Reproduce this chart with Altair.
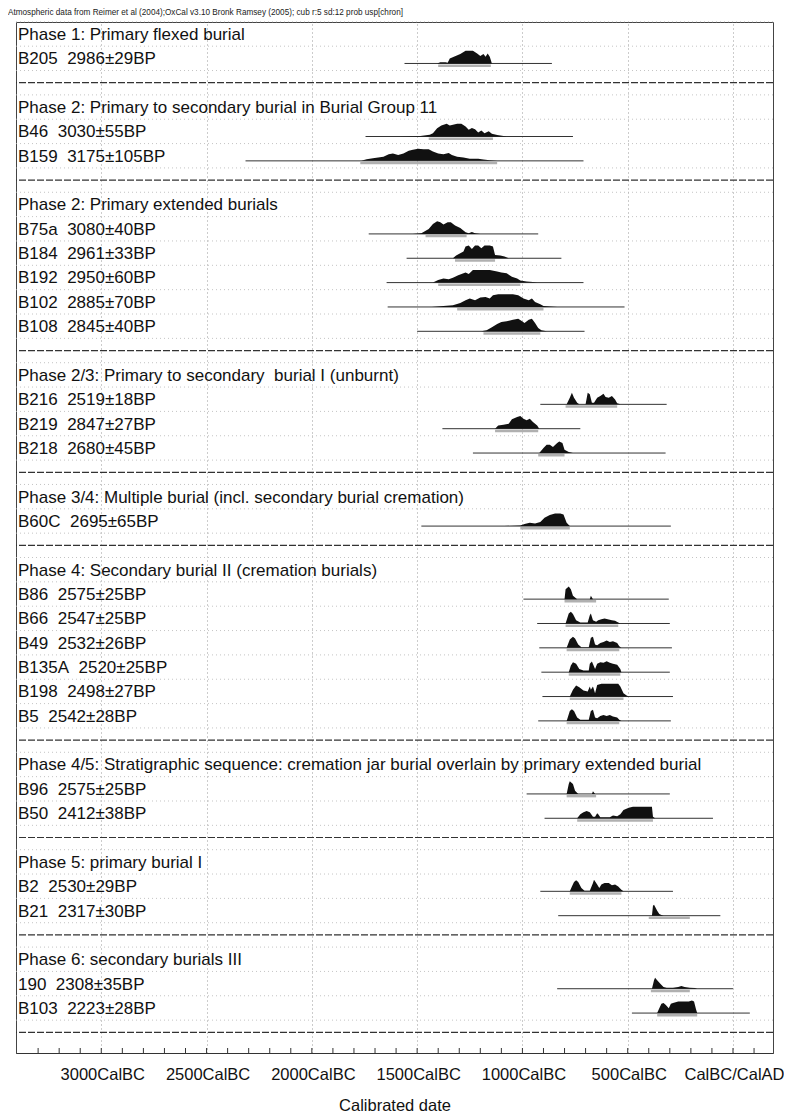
import altair as alt
import pandas as pd

FONT = "Liberation Sans"
TITLE = "Atmospheric data from Reimer et al (2004);OxCal v3.10 Bronk Ramsey (2005); cub r:5 sd:12 prob usp[chron]"

HEADERS = [
    "Phase 1: Primary flexed burial",
    "Phase 2: Primary to secondary burial in Burial Group 11",
    "Phase 2: Primary extended burials",
    "Phase 2/3: Primary to secondary\u00a0 burial I (unburnt)",
    "Phase 3/4: Multiple burial (incl. secondary burial cremation)",
    "Phase 4: Secondary burial II (cremation burials)",
    "Phase 4/5: Stratigraphic sequence: cremation jar burial overlain by primary extended burial",
    "Phase 5: primary burial I",
    "Phase 6: secondary burials III",
]
HEADER_SLOTS = [0, 3, 7, 14, 19, 22, 30, 34, 38]
SEPARATOR_SLOTS = [2, 6, 13, 18, 21, 29, 33, 37, 41]

SAMPLES = ["B205", "B46", "B159", "B75a", "B184", "B192", "B102", "B108",
           "B216", "B219", "B218", "B60C", "B86", "B66", "B49", "B135A",
           "B198", "B5", "B96", "B50", "B2", "B21", "190", "B103"]
DATES = ["2986±29BP", "3030±55BP", "3175±105BP", "3080±40BP", "2961±33BP",
         "2950±60BP", "2885±70BP", "2845±40BP", "2519±18BP", "2847±27BP",
         "2680±45BP", "2695±65BP", "2575±25BP", "2547±25BP", "2532±26BP",
         "2520±25BP", "2498±27BP", "2542±28BP", "2575±25BP", "2412±38BP",
         "2530±29BP", "2317±30BP", "2308±35BP", "2223±28BP"]
SAMPLE_SLOTS = [1, 4, 5, 8, 9, 10, 11, 12, 15, 16, 17, 20, 23, 24, 25, 26,
                27, 28, 31, 32, 35, 36, 39, 40]
LINE_START = [-1560, -1745, -2315, -1730, -1550, -1645, -1640, -1500,
              -915, -1380, -1235, -1480, -995, -930, -920, -910,
              -905, -925, -980, -895, -915, -830, -835, -480]
LINE_END = [-860, -760, -710, -925, -815, -710, -515, -705,
            -315, -725, -320, -295, -305, -300, -290, -300,
            -285, -295, -300, -95, -285, -60, 0, 80]
RANGE_LO = [-1400, -1445, -1770, -1460, -1320, -1400, -1310, -1185,
            -795, -1130, -925, -1010, -800, -795, -790, -780,
            -775, -790, -790, -740, -775, -400, -390, -360]
RANGE_HI = [-1150, -1140, -1120, -1265, -1130, -1010, -900, -915,
            -550, -925, -800, -775, -650, -545, -540, -535,
            -520, -540, -650, -380, -530, -205, -205, -170]

# probability distributions (relative to peak, %)
B205_YEAR = [-1405, -1390, -1365, -1355, -1345, -1295, -1270, -1235, -1215, -1200, -1185, -1175, -1165, -1155, -1145]
B205_PROB = [0, 10, 10, 5, 40, 74, 100, 100, 79, 58, 74, 53, 79, 53, 0]
B46_YEAR = [-1580, -1485, -1440, -1425, -1405, -1385, -1360, -1345, -1310, -1290, -1270, -1255, -1240, -1225, -1210, -1195, -1180, -1160, -1145, -1120, -1075]
B46_PROB = [0, 5, 13, 26, 66, 87, 100, 87, 100, 100, 79, 53, 68, 58, 32, 47, 26, 42, 21, 11, 0]
B159_YEAR = [-1765, -1740, -1710, -1660, -1635, -1615, -1590, -1565, -1540, -1520, -1495, -1470, -1445, -1425, -1400, -1375, -1350, -1335, -1310, -1280, -1250, -1210, -1185, -1155, -1120]
B159_PROB = [0, 13, 21, 32, 53, 58, 47, 58, 79, 87, 95, 92, 92, 74, 58, 53, 63, 47, 32, 26, 16, 16, 11, 5, 0]
B75A_YEAR = [-1520, -1480, -1445, -1425, -1405, -1390, -1375, -1355, -1340, -1320, -1295, -1270, -1255, -1240, -1225, -1200]
B75A_PROB = [0, 5, 39, 79, 100, 92, 74, 92, 92, 66, 47, 13, 5, 16, 5, 0]
B184_YEAR = [-1330, -1315, -1280, -1270, -1255, -1240, -1225, -1210, -1195, -1180, -1155, -1140, -1130, -1105, -1085, -1065]
B184_PROB = [0, 21, 53, 92, 100, 74, 100, 100, 79, 100, 100, 92, 26, 21, 13, 0]
B192_YEAR = [-1425, -1400, -1375, -1350, -1330, -1305, -1270, -1255, -1235, -1210, -1185, -1155, -1120, -1100, -1075, -1050, -1025, -1010, -980, -950, -930]
B192_PROB = [0, 21, 32, 26, 39, 58, 79, 68, 100, 100, 100, 100, 87, 79, 74, 47, 32, 16, 8, 5, 0]
B102_YEAR = [-1430, -1375, -1330, -1295, -1270, -1250, -1225, -1200, -1175, -1155, -1140, -1115, -1085, -1045, -1020, -995, -970, -955, -940, -915, -900, -870, -835]
B102_PROB = [0, 8, 13, 32, 53, 66, 53, 74, 79, 66, 92, 100, 100, 100, 92, 66, 53, 66, 39, 21, 8, 3, 0]
B108_YEAR = [-1195, -1170, -1145, -1120, -1100, -1075, -1045, -1020, -1005, -990, -970, -955, -940, -925, -910, -885]
B108_PROB = [0, 8, 32, 58, 74, 79, 92, 100, 84, 66, 92, 100, 66, 26, 8, 0]
B216_YEAR = [-790, -775, -765, -755, -740, -730, -700, -690, -680, -670, -660, -645, -630, -615, -605, -590, -575, -560, -550, -535]
B216_PROB = [0, 53, 92, 53, 13, 0, 0, 92, 79, 13, 13, 53, 66, 84, 58, 53, 66, 39, 8, 0]
B219_YEAR = [-1130, -1115, -1090, -1065, -1050, -1025, -1010, -995, -980, -965, -950, -930, -920]
B219_PROB = [0, 26, 32, 39, 74, 92, 100, 79, 66, 79, 53, 26, 0]
B218_YEAR = [-920, -900, -885, -870, -855, -835, -825, -810, -800, -780, -760]
B218_PROB = [0, 39, 66, 66, 47, 79, 92, 79, 26, 8, 0]
B60C_YEAR = [-1085, -1010, -990, -965, -940, -915, -895, -870, -845, -820, -805, -790, -775]
B60C_PROB = [0, 5, 16, 26, 21, 32, 66, 87, 100, 100, 92, 26, 0]
B86_YEAR = [-800, -795, -780, -770, -760, -740, -680, -675, -665]
B86_PROB = [0, 79, 100, 79, 26, 0, 0, 26, 0]
B66_YEAR = [-795, -780, -770, -760, -745, -725, -690, -680, -675, -665, -650, -640, -625, -610, -590, -575, -560, -545, -535]
B66_PROB = [0, 79, 92, 74, 26, 8, 8, 66, 79, 26, 13, 26, 34, 39, 32, 26, 21, 8, 0]
B49_YEAR = [-790, -775, -760, -750, -735, -720, -685, -675, -665, -655, -645, -630, -615, -600, -585, -570, -550, -540, -530]
B49_PROB = [0, 66, 87, 74, 26, 5, 5, 79, 87, 26, 21, 39, 47, 58, 47, 53, 39, 13, 0]
B135A_YEAR = [-780, -770, -760, -745, -730, -710, -685, -680, -670, -655, -645, -630, -615, -600, -585, -570, -550, -535, -530]
B135A_PROB = [0, 53, 79, 66, 26, 13, 13, 66, 84, 26, 66, 79, 74, 87, 74, 66, 58, 26, 0]
B198_YEAR = [-775, -760, -745, -730, -710, -690, -680, -675, -665, -655, -645, -625, -600, -570, -545, -535, -520, -505, -495]
B198_PROB = [0, 53, 87, 74, 47, 39, 79, 53, 79, 26, 92, 100, 100, 100, 100, 79, 26, 8, 0]
B5_YEAR = [-790, -775, -765, -755, -740, -725, -685, -675, -665, -655, -645, -630, -615, -600, -585, -570, -550, -540, -530]
B5_PROB = [0, 79, 92, 79, 26, 8, 8, 79, 87, 26, 21, 39, 47, 39, 47, 34, 26, 8, 0]
B96_YEAR = [-790, -780, -775, -760, -750, -735, -670, -665, -655]
B96_PROB = [0, 79, 100, 79, 26, 0, 0, 21, 0]
B50_YEAR = [-740, -725, -710, -695, -680, -665, -655, -645, -640, -630, -610, -585, -570, -550, -535, -520, -495, -475, -440, -410, -385, -380, -370]
B50_PROB = [0, 32, 47, 58, 47, 13, 13, 39, 32, 8, 8, 8, 21, 16, 32, 66, 84, 92, 92, 92, 92, 13, 0]
B2_YEAR = [-775, -765, -755, -745, -735, -720, -705, -680, -665, -660, -645, -635, -625, -610, -590, -575, -560, -545, -530, -520]
B2_PROB = [0, 39, 74, 87, 74, 26, 5, 5, 66, 92, 53, 26, 53, 66, 66, 47, 53, 39, 13, 0]
B21_YEAR = [-385, -380, -375, -360, -350, -340, -330]
B21_PROB = [0, 79, 87, 39, 13, 5, 0]
S190_YEAR = [-385, -375, -370, -360, -345, -330, -315, -285, -260, -245, -230, -205, -180, -170]
S190_PROB = [0, 66, 87, 66, 39, 13, 8, 8, 13, 21, 13, 8, 5, 0]
B103_YEAR = [-360, -350, -340, -330, -320, -305, -295, -285, -260, -235, -210, -195, -185, -175, -170]
B103_PROB = [0, 39, 74, 79, 66, 39, 74, 79, 92, 92, 92, 100, 92, 26, 0]

DENSITIES = [
    (B205_YEAR, B205_PROB), (B46_YEAR, B46_PROB), (B159_YEAR, B159_PROB),
    (B75A_YEAR, B75A_PROB), (B184_YEAR, B184_PROB), (B192_YEAR, B192_PROB),
    (B102_YEAR, B102_PROB), (B108_YEAR, B108_PROB), (B216_YEAR, B216_PROB),
    (B219_YEAR, B219_PROB), (B218_YEAR, B218_PROB), (B60C_YEAR, B60C_PROB),
    (B86_YEAR, B86_PROB), (B66_YEAR, B66_PROB), (B49_YEAR, B49_PROB),
    (B135A_YEAR, B135A_PROB), (B198_YEAR, B198_PROB), (B5_YEAR, B5_PROB),
    (B96_YEAR, B96_PROB), (B50_YEAR, B50_PROB), (B2_YEAR, B2_PROB),
    (B21_YEAR, B21_PROB), (S190_YEAR, S190_PROB), (B103_YEAR, B103_PROB),
]

TICK_VALUES = [-3000, -2500, -2000, -1500, -1000, -500, 0]
TICK_LABELS = ["3000CalBC", "2500CalBC", "2000CalBC", "1500CalBC",
               "1000CalBC", "500CalBC", "CalBC/CalAD"]
MINOR_TICKS = list(range(-3300, 200, 100))

X_DOMAIN = [-3405, 190]
Y_DOMAIN = [-0.493, 41.85]
BASE_OFFSET = 0.21   # baseline below row centre (slot units)
PEAK = 0.52          # peak height (slot units)

# ---------- tables ----------
dens_rows = []
for name, slot, (yrs, probs) in zip(SAMPLES, SAMPLE_SLOTS, DENSITIES):
    base = slot + BASE_OFFSET
    for yr, p in zip(yrs, probs):
        dens_rows.append({"sample": name, "year": yr,
                          "top": base - p / 100.0 * PEAK, "base": base})
dens_df = pd.DataFrame(dens_rows)

samp_df = pd.DataFrame({
    "sample": SAMPLES,
    "label": [s + "\u00a0 " + d for s, d in zip(SAMPLES, DATES)],
    "slot": SAMPLE_SLOTS,
    "start": LINE_START, "end": LINE_END,
    "lo": RANGE_LO, "hi": RANGE_HI,
})
samp_df["base"] = samp_df["slot"] + BASE_OFFSET
samp_df["bar"] = samp_df["slot"] + BASE_OFFSET + 0.09
samp_df["ty"] = samp_df["slot"] + 0.245

head_df = pd.DataFrame({"label": HEADERS, "slot": HEADER_SLOTS})
head_df["ty"] = head_df["slot"] + 0.245

sep_df = pd.DataFrame({"slot": SEPARATOR_SLOTS})
grid_df = pd.DataFrame({"slot": [i + 0.5 for i in range(-1, 41)]})
minor_df = pd.DataFrame({"tick": MINOR_TICKS})
title_df = pd.DataFrame({"t": [TITLE]})

# ---------- encodings ----------
x_scale = alt.Scale(domain=X_DOMAIN, nice=False, zero=False)
y_scale = alt.Scale(domain=Y_DOMAIN, nice=False, zero=False, reverse=True)

label_expr = " : ".join(f"datum.value == {v} ? '{l}'" for v, l in zip(TICK_VALUES, TICK_LABELS)) + " : ''"
x_axis = alt.Axis(values=TICK_VALUES, labelExpr=label_expr, title="Calibrated date",
                  ticks=False, grid=True, gridDash=[1, 3], gridColor="#999",
                  gridWidth=1, domain=True, domainColor="#333",
                  labelFont=FONT, labelFontSize=16.5, labelColor="#111",
                  labelPadding=13, labelOffset=1, labelFlush=False,
                  titleFont=FONT, titleFontSize=16.5, titleFontWeight="normal",
                  titleColor="#111", titlePadding=15)


def X(field):
    return alt.X(field, type="quantitative", scale=x_scale, axis=x_axis)


def Y(field):
    return alt.Y(field, type="quantitative", scale=y_scale, axis=None)


hgrid = alt.Chart(grid_df).mark_rule(color="#b5b5b5", strokeDash=[1, 3], strokeWidth=0.8).encode(
    y=Y("slot"))

seps = alt.Chart(sep_df).mark_rule(color="#333", strokeDash=[7, 2], strokeWidth=1.2).encode(
    y=Y("slot"))

lines = alt.Chart(samp_df).mark_rule(color="#333", strokeWidth=1).encode(
    x=X("start"), x2="end", y=Y("base"))

bars = alt.Chart(samp_df).mark_rule(color="#b0b0b0", strokeWidth=2.5).encode(
    x=X("lo"), x2="hi", y=Y("bar"))

areas = alt.Chart(dens_df).mark_area(color="#111", interpolate="linear").encode(
    x=X("year"), y=Y("top"), y2="base", detail="sample:N")

labels = alt.Chart(samp_df).mark_text(align="left", baseline="alphabetic", font=FONT,
                                      fontSize=17, color="#111").encode(
    x=alt.value(2), y=Y("ty"), text="label:N")

heads = alt.Chart(head_df).mark_text(align="left", baseline="alphabetic", font=FONT,
                                     fontSize=17, color="#111").encode(
    x=alt.value(2), y=Y("ty"), text="label:N")

minor = alt.Chart(minor_df).mark_rule(color="#333", strokeWidth=1).encode(
    x=X("tick"), y=alt.value(1031), y2=alt.value(1026))

title = alt.Chart(title_df).mark_text(align="left", baseline="alphabetic", font=FONT,
                                      fontSize=8.2, color="#222").encode(
    x=alt.value(-8), y=alt.value(-7), text="t:N")

chart = alt.layer(hgrid, seps, lines, bars, areas, labels, heads, minor, title).properties(
    width=757, height=1031,
    autosize=alt.AutoSizeParams(type="none"),
    padding={"left": 8, "top": 14, "right": 11, "bottom": 61},
).configure_view(stroke="#444", strokeWidth=1)

chart.save("out.html", embed_options={"renderer": "svg", "actions": False})
